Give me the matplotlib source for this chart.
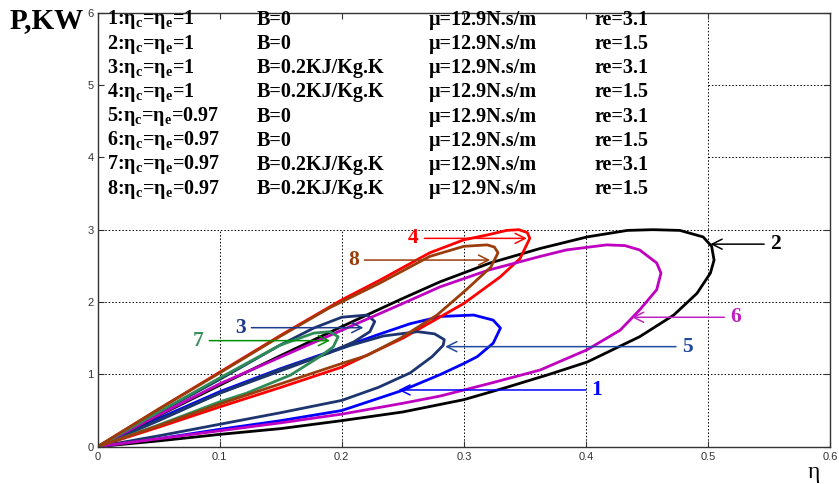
import numpy as np
import matplotlib.pyplot as plt

# P (kW) against efficiency, one closed loop per case
eta_1 = [0, 0.05, 0.1, 0.15, 0.2, 0.25, 0.281, 0.3, 0.311, 0.324, 0.33, 0.324, 0.308, 0.281, 0.256, 0.229, 0.2, 0.15, 0.1, 0.05, 0]
p_1 = [0, 0.11, 0.24, 0.36, 0.5, 0.78, 1.0, 1.15, 1.245, 1.43, 1.64, 1.75, 1.82, 1.80, 1.70, 1.545, 1.37, 1.08, 0.76, 0.39, 0]

eta_2 = [0, 0.05, 0.1, 0.15, 0.2, 0.25, 0.3, 0.335, 0.37, 0.401, 0.444, 0.472, 0.491, 0.502, 0.505, 0.503, 0.496, 0.477,
         0.455, 0.434, 0.401, 0.3625, 0.3216, 0.2806, 0.25, 0.2, 0.15, 0.1, 0.05, 0]
p_2 = [0, 0.08, 0.17, 0.25, 0.36, 0.48, 0.65, 0.82, 1.0, 1.17, 1.52, 1.82, 2.12, 2.40, 2.58, 2.77, 2.90, 2.99,
       3.0, 2.99, 2.90, 2.74, 2.54, 2.28, 2.05, 1.66, 1.26, 0.85, 0.43, 0]

eta_3 = [0, 0.05, 0.1, 0.15, 0.19, 0.21, 0.223, 0.227, 0.221, 0.2, 0.177, 0.149, 0.1, 0.05, 0]
p_3 = [0, 0.36, 0.74, 1.05, 1.30, 1.45, 1.59, 1.73, 1.82, 1.79, 1.64, 1.40, 0.93, 0.47, 0]

eta_4 = [0, 0.05, 0.1, 0.15, 0.2, 0.25, 0.3, 0.33, 0.346, 0.354, 0.352, 0.345, 0.335, 0.32, 0.3, 0.272, 0.231, 0.2,
         0.15, 0.1, 0.05, 0]
p_4 = [0, 0.27, 0.55, 0.82, 1.1, 1.5, 1.98, 2.35, 2.6, 2.88, 2.96, 3.0, 2.99, 2.93, 2.86, 2.68, 2.30, 2.03,
       1.54, 1.03, 0.52, 0]

eta_5 = [0, 0.05, 0.1, 0.15, 0.2, 0.23, 0.256, 0.274, 0.283, 0.284, 0.276, 0.262, 0.234, 0.207, 0.15, 0.1, 0.05, 0]
p_5 = [0, 0.15, 0.31, 0.47, 0.64, 0.82, 1.02, 1.245, 1.40, 1.48, 1.56, 1.59, 1.53, 1.40, 1.07, 0.74, 0.37, 0]

eta_6 = [0, 0.05, 0.1, 0.15, 0.2, 0.25, 0.2806, 0.3216, 0.3625, 0.401, 0.428, 0.444, 0.458, 0.4615, 0.458, 0.444,
         0.432, 0.417, 0.384, 0.3625, 0.32, 0.2806, 0.25, 0.2, 0.15, 0.1, 0.05, 0]
p_6 = [0, 0.11, 0.22, 0.33, 0.45, 0.60, 0.70, 0.876, 1.06, 1.34, 1.61, 1.89, 2.17, 2.40, 2.54, 2.72,
       2.78, 2.79, 2.72, 2.63, 2.44, 2.21, 1.98, 1.61, 1.24, 0.87, 0.44, 0]

eta_7 = [0, 0.05, 0.1, 0.122, 0.158, 0.182, 0.193, 0.197, 0.19, 0.177, 0.149, 0.1, 0.05, 0]
p_7 = [0, 0.3, 0.62, 0.74, 0.99, 1.245, 1.38, 1.52, 1.59, 1.57, 1.40, 0.95, 0.48, 0]

eta_8 = [0, 0.05, 0.1, 0.15, 0.2, 0.2205, 0.248, 0.278, 0.302, 0.322, 0.328, 0.325, 0.319, 0.3, 0.272, 0.231,
         0.19, 0.15, 0.1, 0.05, 0]
p_8 = [0, 0.29, 0.59, 0.87, 1.15, 1.26, 1.50, 1.82, 2.17, 2.48, 2.68, 2.76, 2.79, 2.77, 2.63, 2.26,
       1.92, 1.53, 1.02, 0.52, 0]

# case descriptions (legend block)
case_eta = ["1", "1", "1", "1", "0.97", "0.97", "0.97", "0.97"]
case_B = ["B=0", "B=0", "B=0.2KJ/Kg.K", "B=0.2KJ/Kg.K", "B=0", "B=0", "B=0.2KJ/Kg.K", "B=0.2KJ/Kg.K"]
case_mu = ["\u03bc=12.9N.s/m"] * 8
case_re = ["re=3.1", "re=1.5"] * 4

# curve labels: where the arrow points and where the number sits
label_head = [(0.2464, 0.784), (0.502, 2.80), (0.2177, 1.645), (0.3516, 2.88),
              (0.2847, 1.383), (0.4377, 1.789), (0.1904, 1.466), (0.3216, 2.58)]
label_text = [(0.409, 0.784), (0.555, 2.80), (0.117, 1.645), (0.2587, 2.88),
              (0.4828, 1.383), (0.5224, 1.789), (0.0825, 1.466), (0.2095, 2.58)]

curves = [(eta_1, p_1), (eta_2, p_2), (eta_3, p_3), (eta_4, p_4),
          (eta_5, p_5), (eta_6, p_6), (eta_7, p_7), (eta_8, p_8)]
line_colors = ["#0000ff", "#000000", "#1c3470", "#ff0000", "#1c3470", "#c000c0", "#2e8b57", "#9b3d0a"]
text_colors = ["#0000ff", "#000000", "#1e3a8c", "#ff0000", "#1f4aa0", "#c020c0", "#3a8f60", "#9b3d0a"]
arrow_colors = ["#0000ff", "#000000", "#1e3a8c", "#ff0000", "#1f4aa0", "#c020c0", "#009000", "#9b3d0a"]

serif = "Liberation Serif"

fig = plt.figure(figsize=(8.39, 4.84), dpi=100)
ax = fig.add_axes([0.1164, 0.0771, 0.8729, 0.8967])

# grid only where the text block does not cover it
for gx in [0.1, 0.2, 0.3, 0.4]:
    ax.plot([gx, gx], [0, 3], color="k", ls=(0, (1.5, 2)), lw=0.7, zorder=0.5)
ax.plot([0.5, 0.5], [0, 6], color="k", ls=(0, (1.5, 2)), lw=0.7, zorder=0.5)
for gy in [1, 2, 3]:
    ax.plot([0, 0.6], [gy, gy], color="k", ls=(0, (1.5, 2)), lw=0.7, zorder=0.5)
for gy in [4, 5]:
    ax.plot([0.5, 0.6], [gy, gy], color="k", ls=(0, (1.5, 2)), lw=0.7, zorder=0.5)

for (x, y), c in zip(curves, line_colors):
    ax.plot(x, y, color=c, lw=2.0, solid_joinstyle="round", zorder=2)

for i in range(8):
    hx, hy = label_head[i]
    tx, ty = label_text[i]
    ax.annotate("", xy=(hx, hy), xytext=(tx + (0.009 if tx < hx else -0.009), ty),
                arrowprops=dict(arrowstyle="->,head_length=0.72,head_width=0.36", color=arrow_colors[i],
                                lw=1.1, shrinkA=0, shrinkB=0, mutation_scale=10), zorder=3)
    ax.text(tx, ty, str(i + 1), color=text_colors[i], fontsize=15.5, fontweight="bold",
            family=serif, ha="center", va="center", zorder=4)

# legend block
col_x = [0.008, 0.13, 0.271, 0.407]
row_y = np.linspace(5.90, 3.56, 8)
for i in range(8):
    first = "%d:\u03b7$_{\\mathregular{c}}$=\u03b7$_{\\mathregular{e}}$=%s" % (i + 1, case_eta[i])
    for x, s in zip(col_x, [first, case_B[i], case_mu[i], case_re[i]]):
        ax.text(x, row_y[i], s, fontsize=14.5, fontweight="bold", family=serif,
                ha="left", va="center", zorder=4)

ax.set_xlim(0, 0.6)
ax.set_ylim(0, 6)
ax.set_xticks([0, 0.1, 0.2, 0.3, 0.4, 0.5, 0.6])
ax.set_xticklabels(["0", "0.1", "0.2", "0.3", "0.4", "0.5", "0.6"])
ax.set_yticks([0, 1, 2, 3, 4, 5, 6])
ax.tick_params(direction="in", top=True, right=True, length=4, width=0.8,
               labelsize=8, labelcolor="#333333", color="#333333")
ax.tick_params(axis="x", pad=4)
ax.tick_params(axis="y", pad=3)
for lab in ax.get_xticklabels() + ax.get_yticklabels():
    lab.set_family("Liberation Sans")
for sp in ax.spines.values():
    sp.set_color("#333333")
    sp.set_linewidth(1.0)

fig.text(10 / 839, 1 - 28 / 484, "P,KW", fontsize=21, fontweight="bold", family=serif, ha="left", va="baseline")
fig.text(814 / 839, 1 - 478 / 484, "\u03b7", fontsize=17, family=serif, ha="center", va="baseline")

fig.savefig("out.png", dpi=100)
